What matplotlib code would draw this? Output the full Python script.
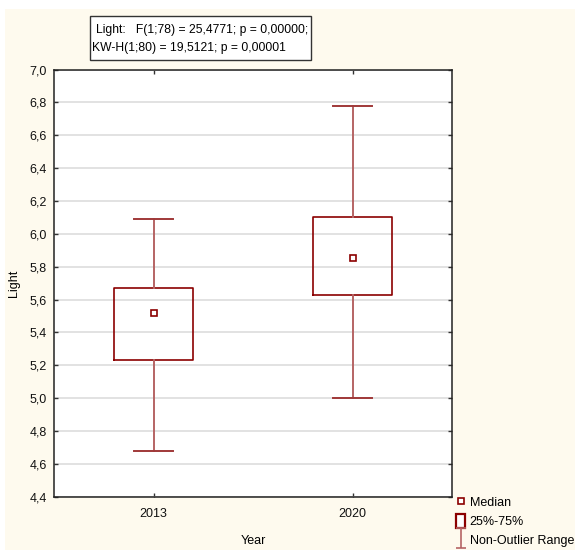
import matplotlib
matplotlib.use("Agg")
import matplotlib.pyplot as plt
from matplotlib.patches import Rectangle, Patch
from matplotlib.lines import Line2D
from matplotlib.path import Path
from matplotlib.ticker import FuncFormatter, MultipleLocator

plt.rcParams['font.family'] = ['Liberation Sans', 'DejaVu Sans']

# data
years = ["2013", "2020"]
medians = [5.52, 5.85]
q1 = [5.23, 5.63]
q3 = [5.67, 6.10]
whis_lo = [4.68, 5.00]
whis_hi = [6.09, 6.78]
stat_lines = ["Light:   F(1;78) = 25,4771; p = 0,00000;",
              "KW-H(1;80) = 19,5121; p = 0,00001"]

W, H = 575, 550
box_red = "#8b0000"
whisk_red = "#b56464"
cream = "#fefaee"
fs = 9

fig = plt.figure(figsize=(W / 100, H / 100), dpi=100, facecolor="white")
# cream panel behind everything (thin white strip on top/left like the original)
fig.patches.append(Rectangle((5 / W, 0), 1, 1 - 9 / H, transform=fig.transFigure,
                             facecolor=cream, edgecolor="none", zorder=-10))

ax = fig.add_axes([54 / W, (H - 496.7) / H, 398 / W, 427.2 / H])
ax.set_facecolor("white")

stats = []
for i in range(len(years)):
    stats.append(dict(med=medians[i], q1=q1[i], q3=q3[i],
                      whislo=whis_lo[i], whishi=whis_hi[i], fliers=[]))
pos = list(range(len(years)))
ax.bxp(stats, positions=pos, widths=0.395, capwidths=0.196, showfliers=False,
       boxprops=dict(color=box_red, linewidth=1.2),
       whiskerprops=dict(color=whisk_red, linewidth=1.4),
       capprops=dict(color="#a03838", linewidth=1.4),
       medianprops=dict(linestyle="none"), zorder=3)
ax.plot(pos, medians, linestyle="none", marker="s", markersize=5,
        markerfacecolor="white", markeredgecolor=box_red, markeredgewidth=1.2, zorder=4)

ax.set_xlim(-0.5, 1.5)
ax.set_ylim(4.4, 7.0)
ax.set_xticks(pos)
ax.set_xticklabels(years)
ax.yaxis.set_major_locator(MultipleLocator(0.2))
ax.yaxis.set_major_formatter(FuncFormatter(lambda v, p: f"{v:.1f}".replace(".", ",")))
ax.grid(axis="y", color="#dddddd", linewidth=1.2, zorder=0)
ax.set_axisbelow(True)
ax.tick_params(direction="in", length=3, width=1, color="#333333",
               top=True, right=True, labelsize=fs, labelcolor="#111111")
ax.tick_params(axis="y", pad=5)
ax.tick_params(axis="x", pad=8)
for s in ax.spines.values():
    s.set_color("#222222")
    s.set_linewidth(1.1)

ax.set_ylabel("Light", fontsize=fs, labelpad=7)
ax.set_xlabel("Year", fontsize=fs, labelpad=11)

# statistics box above the plot
px = lambda x, y: (x / W, 1 - y / H)
fig.patches.append(Rectangle(px(90, 60), 221 / W, 44 / H, transform=fig.transFigure,
                             facecolor="white", edgecolor="#333333", linewidth=1.0))
fig.text(*px(96.5, 29.5), stat_lines[0], fontsize=8.7, va="center", ha="left")
fig.text(*px(92.5, 48), stat_lines[1], fontsize=8.7, va="center", ha="left")

# legend
v = [(-0.5, -1), (0.5, -1), (0, -1), (0, 1), (-0.5, 1), (0.5, 1)]
c = [Path.MOVETO, Path.LINETO, Path.MOVETO, Path.LINETO, Path.MOVETO, Path.LINETO]
range_marker = Path(v, c)
handles = [
    Line2D([], [], linestyle="none", marker="s", markersize=4,
           markerfacecolor="white", markeredgecolor=box_red, markeredgewidth=1.2),
    Patch(facecolor="white", edgecolor=box_red, linewidth=1.6),
    Line2D([], [], linestyle="none", marker=range_marker, markersize=14,
           markerfacecolor="none", markeredgecolor=whisk_red, markeredgewidth=1.2),
]
fig.legend(handles, ["Median", "25%-75%", "Non-Outlier Range"],
           loc="upper left", bbox_to_anchor=(456 / W, 1 - 495 / H),
           frameon=False, fontsize=fs, handlelength=0.75, handleheight=1.4,
           handletextpad=0.35, labelspacing=0.35, borderpad=0.0, borderaxespad=0)

fig.savefig("out.png", dpi=100, facecolor=fig.get_facecolor())
